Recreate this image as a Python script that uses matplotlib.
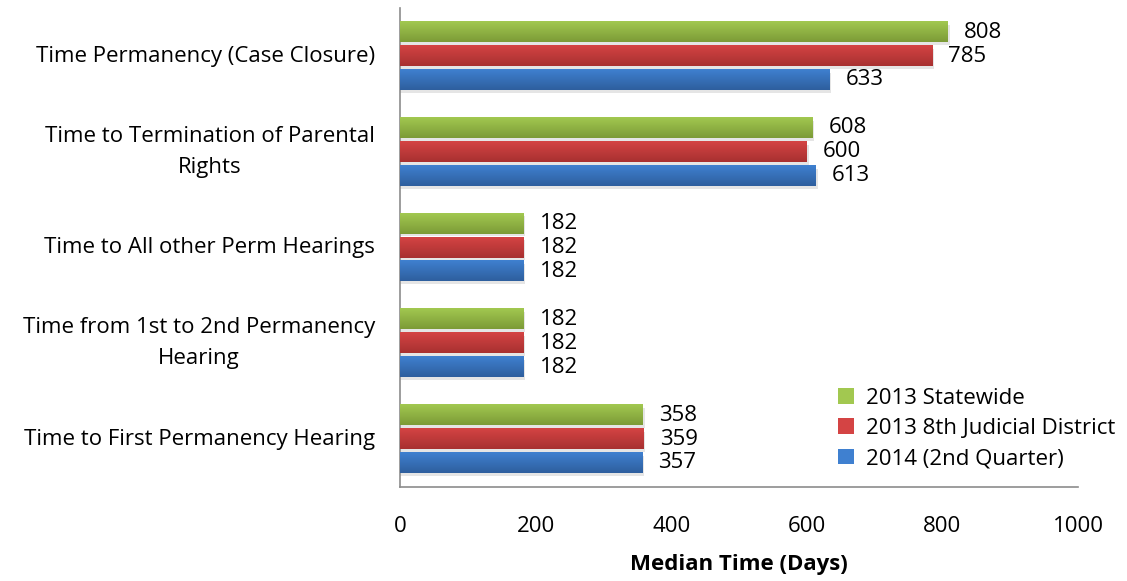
import matplotlib.pyplot as plt
import numpy as np
from matplotlib.patches import Patch

categories = ['Time Permanency (Case Closure)',
              'Time to Termination of Parental\nRights',
              'Time to All other Perm Hearings',
              'Time from 1st to 2nd Permanency\nHearing',
              'Time to First Permanency Hearing']
statewide_2013 = [808, 608, 182, 182, 358]
district_2013 = [785, 600, 182, 182, 359]
quarter_2014 = [633, 613, 182, 182, 357]
series_names = ['2013 Statewide', '2013 8th Judicial District', '2014 (2nd Quarter)']
xticks = [0, 200, 400, 600, 800, 1000]

plt.rcParams['font.family'] = ['Open Sans', 'DejaVu Sans']
fs = 16

# (top colour, bottom colour) for the bar gradients
colors = [('#a2c850', '#7c9b37'), ('#d44444', '#a83030'), ('#3f80d0', '#2e5f9e')]
offsets = [-0.25, 0.0, 0.25]
height = 0.21

fig = plt.figure(figsize=(11.27, 5.81), dpi=100)
ax = fig.add_axes([0.355, 0.162, 0.6015, 0.824])

y = np.arange(len(categories))
for vals, (top, bot), off in zip([statewide_2013, district_2013, quarter_2014], colors, offsets):
    bars = ax.barh(y + off, vals, height=height, color=top, zorder=2)
    for b, v in zip(bars, vals):
        x0, y0 = b.get_x(), b.get_y()
        w, h = b.get_width(), b.get_height()
        # soft shadow below the bar
        ax.barh(y0 + h / 2 + 0.03, w + 3, height=h, left=x0, color='#000000', alpha=0.10, zorder=1)
        grad = np.linspace(0, 1, 50).reshape(-1, 1)
        cmap = plt.matplotlib.colors.LinearSegmentedColormap.from_list('g', [top, bot])
        ax.imshow(grad, extent=[x0, x0 + w, y0 + h, y0], aspect='auto', cmap=cmap, zorder=3)
        ax.text(v + 24, y0 + h / 2, str(v), va='center', ha='left', fontsize=fs, zorder=4)

ax.set_ylim(len(categories) - 0.5, -0.5)
ax.set_xlim(0, 1000)
ax.set_yticks(y)
ax.set_yticklabels(categories, fontsize=fs, multialignment='center', linespacing=1.65, va='center')
ax.set_xticks(xticks)
ax.set_xticklabels([str(t) for t in xticks], fontsize=fs)
ax.tick_params(length=0)
ax.tick_params(axis='x', pad=21)
ax.tick_params(axis='y', pad=18)
ax.set_xlabel('Median Time (Days)', fontsize=fs, fontweight='bold', labelpad=12)

for s in ['top', 'right']:
    ax.spines[s].set_visible(False)
for s in ['left', 'bottom']:
    ax.spines[s].set_color('#8c8c8c')
    ax.spines[s].set_linewidth(1.2)

handles = [Patch(facecolor=c[0], edgecolor='none') for c in colors]
ax.legend(handles, series_names, loc='lower right', bbox_to_anchor=(1.085, -0.005), frameon=False,
          fontsize=fs, handlelength=0.7, handleheight=0.7, handletextpad=0.55, labelspacing=0.42)

fig.savefig('out.png', dpi=100)
